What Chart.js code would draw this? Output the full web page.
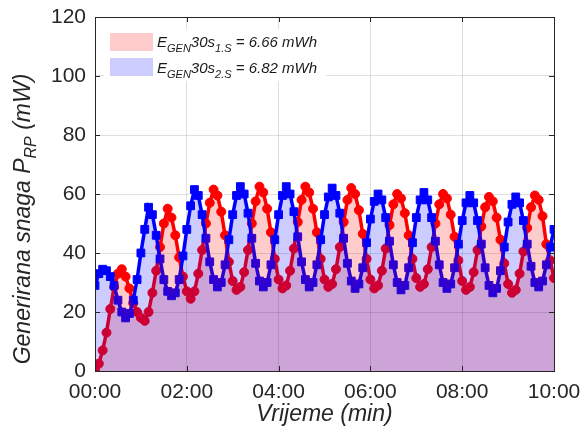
<!DOCTYPE html>
<html>
<head>
<meta charset="utf-8">
<script src="https://cdn.jsdelivr.net/npm/chart.js@4.4.1/dist/chart.umd.min.js"></script>
<style>
  body { margin: 0; background: #fff; }
  canvas { display: block; }
</style>
</head>
<body>
<canvas id="powerChart" width="585" height="438"></canvas>
<script>
const sampleSec = 5;
const xTickLabels = ["00:00", "02:00", "04:00", "06:00", "08:00", "10:00"];
const runNames = ["1.S", "2.S"];
const energyLabels = ["6.66", "6.82"];

// 1. mjerenje (crveno), uzorak svakih 5 s
const redValues = [
  0.5, 2.5, 7, 13, 21, 28.5, 33, 34.5, 32, 28, 23, 20,
  18, 17, 20, 26.5, 34, 42, 50, 55, 52, 46, 38.5, 32,
  27, 24.5, 27, 33, 41, 50, 57, 61.5, 59.5, 54, 46, 37,
  30.5, 27.5, 28.5, 33.5, 41, 50, 57.5, 62.5, 60.5, 55, 47, 38,
  31, 28, 29, 34, 41.5, 50.5, 58, 62.5, 60.5, 55, 47, 38,
  31, 28.5, 29.5, 34.5, 42, 50.5, 58, 62, 60, 54.5, 46.5, 38,
  31, 28, 29, 34, 41.5, 49.5, 56.5, 60, 58.5, 53.5, 46, 38,
  31.5, 28.5, 29.5, 34.5, 42, 50, 56.5, 60, 58.5, 53, 45.5, 37.5,
  30.5, 27.5, 28.5, 33.5, 41, 49, 55.5, 59, 57.5, 52, 44.5, 36.5,
  29.5, 26.5, 27.5, 33, 40.5, 48.5, 55.5, 59.5, 58, 52.5, 43, 37.5,
  31.5
];

// 2. mjerenje (plavo)
const blueValues = [
  29, 33, 34.5, 34, 32, 29, 24, 20, 18, 19.5, 24, 31,
  40, 48, 55.5, 53, 46, 38, 31, 27, 25.5, 26.5, 31, 39,
  48, 56, 61.5, 59.5, 53, 45, 37, 31, 28.5, 30, 36, 44.5,
  53, 59.5, 62.5, 60, 53.5, 45, 36.5, 30.5, 28.5, 30, 36, 44.5,
  53, 59.5, 62.5, 60, 54, 45.5, 37, 31, 28.5, 30, 36, 44.5,
  53, 59, 62, 59.5, 53.5, 45, 36.5, 30.5, 28, 29.5, 35, 43.5,
  51.5, 57.5, 60, 58, 52, 44, 36, 30, 27.5, 29, 35, 43.5,
  52, 58, 60.5, 58, 52, 44, 36, 30, 28, 29.5, 35, 43,
  51, 57, 59.5, 57, 51, 43, 35, 29, 26.5, 28, 34, 42,
  50.5, 56.5, 59, 57, 51, 43, 35.5, 30, 28.5, 30.5, 36, 42,
  48
];

const fontFamily = '"Liberation Sans", Arial, sans-serif';
const textColor = "#262626";
const redFill = "rgba(255, 0, 0, 0.2)";
const blueFill = "rgba(0, 0, 255, 0.2)";

function toPoints(vals) {
  return vals.map((v, i) => ({ x: i * sampleSec / 60, y: v }));
}

// okvir, legenda s indeksima i naslovi osi
const decorations = {
  id: "decorations",
  afterDraw(chart) {
    const ctx = chart.ctx;
    const a = chart.chartArea;
    ctx.save();

    // kratke oznake prema unutra (MATLAB stil)
    ctx.strokeStyle = textColor;
    ctx.lineWidth = 1;
    const xs = chart.scales.x, ys = chart.scales.y;
    ctx.beginPath();
    for (let t = 2; t < 10; t += 2) {
      const px = Math.round(xs.getPixelForValue(t)) + 0.5;
      ctx.moveTo(px, a.bottom); ctx.lineTo(px, a.bottom - 5);
      ctx.moveTo(px, a.top); ctx.lineTo(px, a.top + 5);
    }
    for (let v = 20; v < 120; v += 20) {
      const py = Math.round(ys.getPixelForValue(v)) + 0.5;
      ctx.moveTo(a.left, py); ctx.lineTo(a.left + 5, py);
      ctx.moveTo(a.right, py); ctx.lineTo(a.right - 5, py);
    }
    ctx.stroke();
    ctx.strokeRect(Math.round(a.left) + 0.5, Math.round(a.top) + 0.5,
      Math.round(a.right - a.left), Math.round(a.bottom - a.top));

    // legenda
    ctx.fillStyle = "#ffffff";
    ctx.fillRect(104, 29, 222, 52);
    const boxFills = [redFill, blueFill];
    for (let i = 0; i < 2; i++) {
      const top = 33 + i * 25;
      ctx.fillStyle = boxFills[i];
      ctx.fillRect(110, top, 43, 18);
      const base = 47 + i * 25.5;
      let x = 157;
      const parts = [
        ["E", 15, 0], ["GEN", 11, 5], ["30s", 15, 0], [runNames[i], 11, 5],
        [" = " + energyLabels[i] + " mWh", 15, 0]
      ];
      ctx.fillStyle = "#1a1a1a";
      ctx.textBaseline = "alphabetic";
      ctx.textAlign = "left";
      for (const [txt, size, dy] of parts) {
        ctx.font = "italic " + size + "px " + fontFamily;
        ctx.fillText(txt, x, base + dy);
        x += ctx.measureText(txt).width;
      }
    }

    // naslov osi x
    ctx.fillStyle = textColor;
    ctx.font = "italic 23px " + fontFamily;
    ctx.textAlign = "center";
    ctx.fillText("Vrijeme (min)", (a.left + a.right) / 2, 421);

    // naslov osi y s indeksom
    ctx.translate(30, 219);
    ctx.rotate(-Math.PI / 2);
    ctx.textAlign = "left";
    const yParts = [["Generirana snaga P", 23, 0], ["RP", 16, 6], [" (mW)", 23, 0]];
    let total = 0;
    for (const [txt, size] of yParts) {
      ctx.font = "italic " + size + "px " + fontFamily;
      total += ctx.measureText(txt).width;
    }
    let x = -total / 2;
    for (const [txt, size, dy] of yParts) {
      ctx.font = "italic " + size + "px " + fontFamily;
      ctx.fillText(txt, x, dy);
      x += ctx.measureText(txt).width;
    }
    ctx.restore();
  }
};

new Chart(document.getElementById("powerChart"), {
  type: "line",
  data: {
    datasets: [
      {
        label: "fill " + runNames[1],
        data: toPoints(blueValues),
        borderWidth: 0,
        borderColor: "rgba(0,0,0,0)",
        pointRadius: 0,
        backgroundColor: blueFill,
        fill: "origin"
      },
      {
        label: "fill " + runNames[0],
        data: toPoints(redValues),
        borderWidth: 0,
        borderColor: "rgba(0,0,0,0)",
        pointRadius: 0,
        backgroundColor: redFill,
        fill: "origin"
      },
      {
        label: runNames[1],
        data: toPoints(blueValues),
        borderColor: "#0000ff",
        borderWidth: 3.5,
        pointStyle: "rect",
        pointRadius: 5.5,
        pointBackgroundColor: "#0000ff",
        pointBorderColor: "#0000ff",
        pointBorderWidth: 1,
        fill: false
      },
      {
        label: runNames[0],
        data: toPoints(redValues),
        borderColor: "#ff0000",
        borderWidth: 3.5,
        pointStyle: "circle",
        pointRadius: 4.5,
        pointBackgroundColor: "#ff0000",
        pointBorderColor: "#ff0000",
        pointBorderWidth: 1,
        fill: false
      }
    ]
  },
  options: {
    responsive: false,
    animation: false,
    devicePixelRatio: 1,
    layout: { padding: { top: 17, right: 31, left: 0, bottom: 0 } },
    plugins: {
      legend: { display: false },
      tooltip: { enabled: false }
    },
    scales: {
      x: {
        type: "linear",
        min: 0,
        max: 10,
        z: 1,
        border: { display: false },
        grid: { color: "rgba(38,38,38,0.15)", drawTicks: false },
        ticks: {
          stepSize: 2,
          autoSkip: false,
          maxRotation: 0,
          padding: 9,
          color: textColor,
          font: { family: fontFamily, size: 21 },
          callback: (v) => xTickLabels[Math.round(v / 2)]
        },
        afterFit: (s) => {
          s.height = 67;
          s.paddingLeft = 0;
          s.paddingRight = 0;
        }
      },
      y: {
        min: 0,
        max: 120,
        z: 1,
        border: { display: false },
        grid: { color: "rgba(38,38,38,0.15)", drawTicks: false },
        ticks: {
          stepSize: 20,
          padding: 9,
          color: textColor,
          font: { family: fontFamily, size: 21 }
        },
        afterFit: (s) => {
          s.width = 95;
          s.paddingTop = 0;
          s.paddingBottom = 0;
        }
      }
    }
  },
  plugins: [decorations]
});
</script>
</body>
</html>
